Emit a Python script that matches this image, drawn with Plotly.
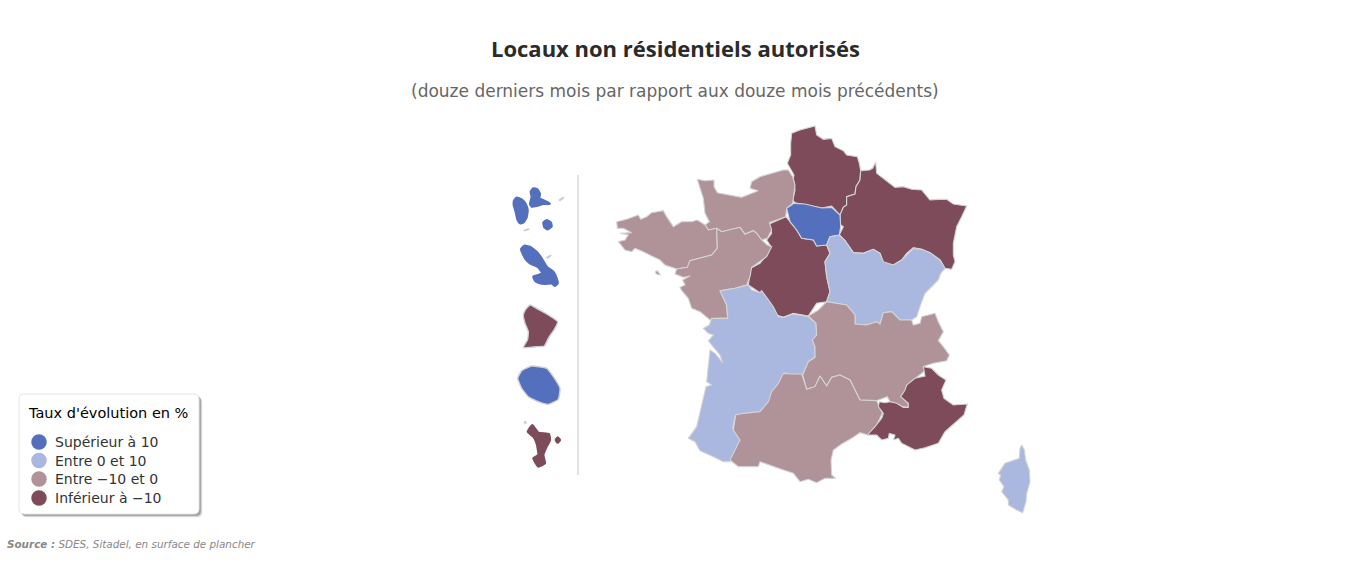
import plotly.graph_objects as go

TITLE = "Locaux non résidentiels autorisés"
SUBTITLE = "(douze derniers mois par rapport aux douze mois précédents)"
SOURCE = "<b><i>Source :</i></b> <i>SDES, Sitadel, en surface de plancher</i>"
LEGEND_TITLE = "Taux d'évolution en %"
CLASSES = ["Supérieur à 10", "Entre 0 et 10", "Entre −10 et 0", "Inférieur à −10"]
COLORS = ["#5470BD", "#AAB7DF", "#B09299", "#7D4B5A"]

# Outline tables, map units = 1/3 px; each table has its own origin
# --- table H: north-east
HDF = [(35,40),(60,30),(105,18),(110,45),(130,58),(155,55),(165,80),(190,92),(200,105),(232,110),(238,130),(242,152),(240,180),(228,200),(225,222),(200,230),(200,255),(190,262),(180,285),(165,270),(155,258),(125,264),(90,258),(45,248),(38,240),(45,210),(40,175),(42,165),(22,130),(32,105),(32,70)]
GES = [(242,152),(268,150),(278,145),(287,126),(290,160),(315,178),(345,202),(370,200),(395,208),(425,210),(450,240),(475,238),(500,238),(520,252),(560,258),(545,290),(530,320),(520,370),(520,405),(525,425),(515,448),(495,445),(480,420),(450,398),(425,388),(400,383),(380,400),(365,420),(340,435),(310,430),(300,400),(280,388),(250,400),(220,398),(195,362),(178,345),(190,320),(182,315),(180,285),(190,262),(200,255),(200,230),(225,222),(228,200),(240,180)]
# --- table A: centre
IDF = [(560,265),(582,250),(615,252),(640,258),(665,264),(695,262),(705,272),(720,285),(722,320),(718,345),(690,350),(680,375),(650,378),(640,360),(605,355),(590,330),(570,305)]
CVL = [(508,312),(530,302),(558,290),(570,305),(590,330),(605,355),(640,360),(650,378),(680,375),(690,400),(675,425),(680,470),(690,515),(680,545),(650,550),(625,588),(580,580),(550,592),(530,585),(502,538),(480,518),(445,495),(452,445),(480,430),(500,405),(512,378),(500,360),(515,340)]
BFC = [(690,350),(718,345),(735,362),(760,398),(790,400),(820,388),(840,400),(850,425),(880,435),(905,420),(920,405),(940,385),(965,388),(990,398),(1020,420),(1035,445),(1022,460),(1015,480),(975,520),(965,545),(950,590),(935,600),(900,600),(875,575),(850,578),(840,612),(830,605),(800,615),(765,612),(765,585),(740,555),(710,550),(680,545),(690,515),(680,470),(675,425),(690,400),(680,375)]
# --- table B: south-east
ARA = [(385,48),(415,30),(440,5),(470,10),(500,15),(525,45),(525,72),(560,75),(590,65),(600,72),(610,38),(635,35),(660,60),(695,60),(700,75),(720,70),(725,50),(765,40),(775,65),(790,95),(775,122),(790,140),(808,165),(800,182),(760,190),(735,198),(735,212),(700,240),(680,258),(680,280),(665,292),(685,310),(685,322),(660,320),(630,305),(622,290),(610,295),(590,302),(540,300),(510,240),(480,225),(455,232),(440,258),(420,228),(405,260),(380,268),(368,225),(385,185),(405,172),(405,140),(397,120),(410,105),(408,70)]
COR = [(1025,435),(1033,450),(1037,480),(1048,510),(1050,545),(1040,580),(1038,605),(1028,638),(1010,630),(985,615),(985,600),(965,575),(972,560),(958,540),(962,525),(955,520),(975,490),(1018,475),(1020,445)]
# --- table I: Provence
PAC = [(58,305),(75,308),(90,305),(110,310),(130,322),(145,322),(145,310),(122,290),(135,270),(140,255),(165,235),(195,228),(190,200),(215,205),(235,225),(258,240),(245,270),(252,295),(280,315),(322,312),(312,345),(285,370),(255,395),(235,430),(195,443),(165,450),(125,430),(115,415),(100,420),(105,405),(88,400),(85,415),(65,420),(50,405),(22,405),(45,380),(65,355),(70,340),(55,320)]
# --- table J: Occitanie
OCC = [(15,270),(45,210),(25,180),(32,135),(55,130),(105,125),(130,95),(140,65),(160,40),(175,10),(200,12),(230,12),(245,58),(270,50),(285,18),(305,48),(320,22),(345,15),(375,30),(405,90),(455,92),(472,130),(455,165),(430,195),(405,188),(380,205),(350,222),(325,240),(318,270),(320,315),(332,325),(300,325),(275,338),(250,328),(225,335),(205,310),(175,300),(135,285),(105,275),(100,290),(40,290)]
# --- table D: north-west
NOR = [(262,28),(285,32),(312,30),(312,50),(322,68),(345,72),(375,78),(395,82),(420,72),(445,62),(420,55),(425,35),(450,20),(490,8),(520,0),(535,0),(548,20),(555,45),(552,75),(548,100),(530,115),(527,140),(500,150),(478,158),(485,180),(472,205),(455,210),(440,190),(430,182),(405,193),(390,172),(360,180),(335,185),(320,175),(295,180),(285,165),(298,155),(285,130),(280,85),(272,60)]
BRE = [(20,155),(50,148),(85,135),(92,148),(110,140),(125,128),(160,122),(170,140),(190,170),(215,155),(245,155),(262,150),(285,165),(295,180),(320,175),(322,235),(305,255),(285,260),(240,272),(232,292),(200,297),(165,285),(150,270),(125,258),(100,245),(75,235),(65,245),(45,240),(25,215),(45,210),(55,195),(30,190),(65,188),(40,175),(22,175)]
PDL = [(200,297),(232,292),(240,272),(285,260),(305,255),(322,235),(320,175),(335,185),(360,180),(390,172),(405,193),(430,182),(440,190),(455,210),(472,225),(485,230),(470,260),(425,292),(420,320),(410,345),(375,355),(330,362),(350,405),(353,445),(320,445),(300,450),(270,425),(245,415),(235,385),(215,362),(210,352),(225,345),(218,330),(240,318),(220,322),(195,312)]
BELLE_ILE = [(135,305),(142,302),(152,315),(140,313)]
# --- table E: south-west
NAQ = [(120,62),(165,55),(205,45),(215,60),(240,68),(245,62),(262,85),(280,110),(295,140),(310,142),(340,132),(385,140),(408,160),(410,195),(397,210),(405,230),(405,262),(385,275),(368,315),(340,320),(315,308),(300,340),(275,370),(268,395),(245,425),(190,435),(165,440),(158,475),(182,510),(150,575),(130,575),(100,560),(60,542),(45,515),(25,505),(50,470),(68,390),(78,350),(95,345),(80,335),(90,240),(105,250),(128,278),(120,255),(95,225),(85,212),(100,195),(85,190),(70,175),(88,165),(95,145),(110,145),(143,145),(140,105)]
# --- table F: Antilles
GP_BASSE = [(27,62),(35,53),(50,58),(62,72),(68,90),(65,112),(55,128),(45,130),(37,118),(32,95),(26,75)]
GP_GRANDE = [(75,72),(80,50),(77,35),(85,25),(97,28),(105,42),(103,55),(125,65),(135,72),(115,72),(95,78),(80,80)]
GP_MARIE = [(115,128),(125,120),(138,128),(140,140),(128,148),(118,142)]
MTQ = [(48,208),(58,197),(75,200),(95,215),(110,235),(125,260),(145,275),(155,295),(158,310),(150,318),(140,310),(120,312),(100,308),(90,302),(85,290),(100,285),(112,280),(100,262),(75,250),(60,235)]
ISLETS_F = [[(160,60),(175,50),(178,54),(165,64)],[(55,150),(72,145),(73,149),(58,154)],[(122,232),(138,224),(139,228),(128,236)]]
# --- table G: Guyane, Réunion, Mayotte
GUF = [(55,45),(62,28),(75,15),(100,28),(130,45),(158,65),(150,85),(130,115),(118,138),(95,140),(75,142),(55,143),(68,118),(70,95),(60,70)]
REU = [(38,235),(50,212),(80,198),(125,205),(145,230),(165,265),(160,298),(130,313),(100,305),(70,290),(50,265)]
MYT = [(68,395),(82,375),(100,398),(132,402),(135,420),(125,440),(115,465),(120,490),(100,500),(85,475),(100,465),(95,430),(85,410)]
MYT_2 = [(152,420),(158,412),(165,420),(158,428)]
ISLETS_G = [[(56,365),(63,363),(65,370),(58,372)]]
SEP_X = [578, 578]
SEP_Y = [175, 475]

A, B, D, E, F, G, H, I, J = (600, 120), (680, 300), (610, 170), (680, 270), (505, 180), (505, 300), (780, 120), (860, 300), (725, 370)

def table(outline, origin):
    return [(x / 3 + origin[0], y / 3 + origin[1]) for x, y in outline]

REGIONS = [
    ("Hauts-de-France", [table(HDF, H)], 3, 0), ("Grand Est", [table(GES, H)], 3, 0),
    ("Centre-Val de Loire", [table(CVL, A)], 3, 0),
    ("Normandie", [table(NOR, D)], 2, 0), ("Bretagne", [table(BRE, D)], 2, 0),
    ("Pays de la Loire", [table(PDL, D), table(BELLE_ILE, D)], 2, 0),
    ("Île-de-France", [table(IDF, A)], 0, 0),
    ("Bourgogne-Franche-Comté", [table(BFC, A)], 1, 0),
    ("Nouvelle-Aquitaine", [table(NAQ, E)], 1, 0), ("Auvergne-Rhône-Alpes", [table(ARA, B)], 2, 0),
    ("Occitanie", [table(OCC, J)], 2, 0), ("Provence-Alpes-Côte d'Azur", [table(PAC, I)], 3, 0),
    ("Corse", [table(COR, B)], 1, 0),
    ("Guadeloupe", [table(GP_BASSE, F), table(GP_GRANDE, F), table(GP_MARIE, F)], 0, 2),
    ("Martinique", [table(MTQ, F)], 0, 2),
    ("Guyane", [table(GUF, G)], 3, 1), ("La Réunion", [table(REU, G)], 0, 1),
    ("Mayotte", [table(MYT, G), table(MYT_2, G)], 3, 2),
]

fig = go.Figure()
fig.add_trace(go.Scatter(x=SEP_X, y=SEP_Y, mode="lines", line=dict(color="#C8C8C8", width=1),
                         showlegend=False, hoverinfo="skip"))
for name, parts, k, smooth in REGIONS:
    for i, part in enumerate(parts):
        line = dict(color="#D4D4D4", width=1.1)
        if smooth == 1:
            line.update(shape="spline", smoothing=0.4, width=1.4, color="#CFCFD6")
        elif smooth == 2:
            line.update(shape="spline", smoothing=0.4, width=2.2, color=COLORS[k])
        fig.add_trace(go.Scatter(x=[p[0] for p in part] + [part[0][0]],
                                 y=[p[1] for p in part] + [part[0][1]],
                                 mode="lines", fill="toself", fillcolor=COLORS[k], line=line,
                                 name=name, showlegend=False, hoverinfo="name"))
for part in [table(p, F) for p in ISLETS_F] + [table(p, G) for p in ISLETS_G]:
    fig.add_trace(go.Scatter(x=[p[0] for p in part], y=[p[1] for p in part],
                             mode="lines", fill="toself", fillcolor="#C4C8D6",
                             line=dict(color="#D8D8D8", width=0.5), showlegend=False, hoverinfo="skip"))

# legend
LEG_X0, LEG_X1, LEG_Y0, LEG_Y1, RADIUS = 19, 199, 394, 514, 5
ROW_Y = [442, 460.5, 479, 498]
KEY_X = 39
LABEL_X = 53

def rounded(x0, x1, y0, y1, r):
    return (f"M{x0+r},{y0} L{x1-r},{y0} Q{x1},{y0} {x1},{y0+r} L{x1},{y1-r} Q{x1},{y1} {x1-r},{y1} "
            f"L{x0+r},{y1} Q{x0},{y1} {x0},{y1-r} L{x0},{y0+r} Q{x0},{y0} {x0+r},{y0} Z")

shapes = []
for off, alpha in [(3.5, 0.07), (3, 0.09), (2.5, 0.12), (2, 0.16), (1.5, 0.18)]:
    shapes.append(dict(type="path", xref="x", yref="y", layer="below",
                       path=rounded(LEG_X0 + off, LEG_X1 + off, LEG_Y0 + off, LEG_Y1 + off, RADIUS),
                       fillcolor=f"rgba(60,60,60,{alpha})", line=dict(width=0)))
shapes.append(dict(type="path", xref="x", yref="y", layer="below",
                   path=rounded(LEG_X0, LEG_X1, LEG_Y0, LEG_Y1, RADIUS),
                   fillcolor="white", line=dict(color="#E4E4E4", width=1)))

fig.add_trace(go.Scatter(x=[KEY_X] * 4, y=ROW_Y, mode="markers", text=CLASSES, hoverinfo="text",
                         marker=dict(color=COLORS, size=15.5, symbol="circle"), showlegend=False))

annotations = [
    dict(text=TITLE, x=675, y=48, xref="x", yref="y", showarrow=False,
         font=dict(size=22, color="#2B2B2B", family="Open Sans", weight=700)),
    dict(text=SUBTITLE, x=675, y=91, xref="x", yref="y", showarrow=False,
         font=dict(size=17, color="#666666")),
    dict(text=SOURCE, x=5, y=544, xref="x", yref="y", xanchor="left", showarrow=False,
         font=dict(size=10.4, color="#888888")),
    dict(text=LEGEND_TITLE, x=26, y=412.5, xref="x", yref="y", xanchor="left", showarrow=False,
         font=dict(size=14.5, color="#000000")),
]
for label, yy in zip(CLASSES, ROW_Y):
    annotations.append(dict(text=label, x=LABEL_X, y=yy, xref="x", yref="y", xanchor="left",
                            showarrow=False, font=dict(size=14, color="#333333")))

fig.update_layout(
    width=1347, height=575, margin=dict(l=0, r=0, t=0, b=0),
    paper_bgcolor="white", plot_bgcolor="white", showlegend=False,
    font=dict(family="DejaVu Sans", color="#333333"),
    xaxis=dict(range=[0, 1347], visible=False, fixedrange=True),
    yaxis=dict(range=[575, 0], visible=False, fixedrange=True),
    annotations=annotations, shapes=shapes,
)
fig.write_html("out.html", config=dict(displayModeBar=False),
               post_script="document.body.style.margin='0';document.body.style.overflow='hidden';")
